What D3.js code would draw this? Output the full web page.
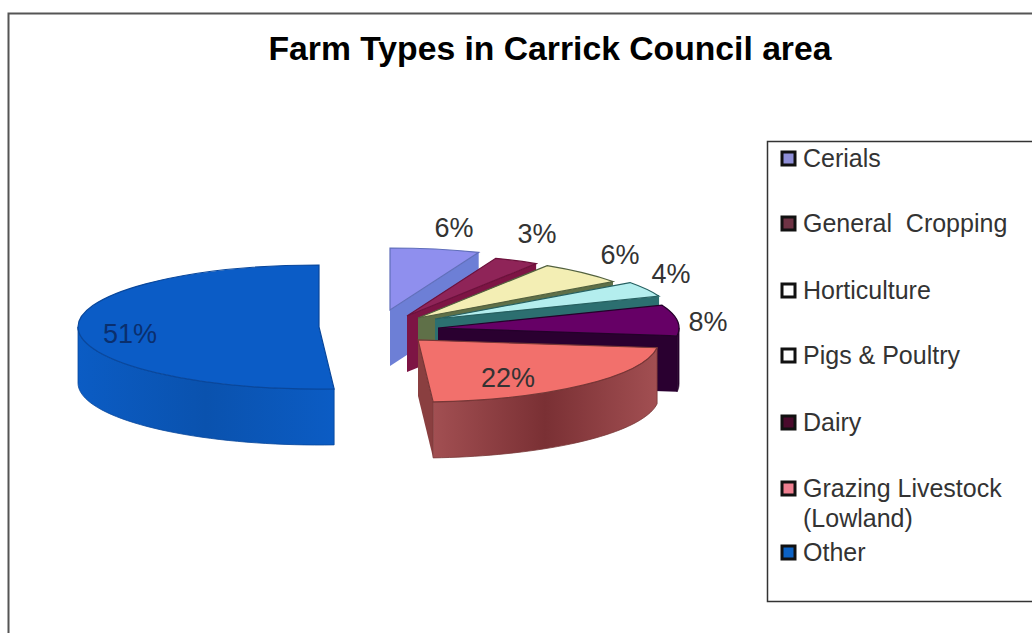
<!DOCTYPE html>
<html>
<head>
<meta charset="utf-8">
<style>
  html, body { margin: 0; padding: 0; background: #fff; }
  svg { display: block; }
  text { font-family: "Liberation Sans", Arial, sans-serif; fill: #222; }
</style>
<script src="https://cdn.jsdelivr.net/npm/d3@7/dist/d3.min.js"></script>
</head>
<body>
<svg id="chart" width="1032" height="633"></svg>
<script>
// Chart content
const chartTitle = "Farm Types in Carrick Council area";
const categories = ["Cerials", "General  Cropping", "Horticulture", "Pigs & Poultry", "Dairy", "Grazing Livestock|(Lowland)", "Other"];
const shares = [6, 3, 6, 4, 8, 22, 51];

// Slice appearance, in the same order as the categories
const topColours = ["#8f8fee", "#8f2458", "#f3eeb4", "#b4eeee", "#660066", "#f2706c", "#0b5cc6"];
const wallColours = ["#6d7fd6", "#7d1444", "#5f7048", "#2c6f70", "#2a0030", "#8a3f40", "#0a52b4"];
const legendFills = ["#8f8fd8", "#6e3344", "#ffffff", "#ffffff", "#4a0a2c", "#ee7f90", "#0c62c4"];

// Where each pulled-out slice has its apex
const apexX = [390, 407, 418, 435, 438, 418, 319];
const apexY = [310, 316, 318, 319, 328, 340, 327];
const legendBaselines = [167, 232, 299, 364, 431, 497, 561];
const labelX = [454, 537, 620, 671, 708, 508, 130];
const labelY = [237, 243, 264, 283, 331, 387, 343];

const radiusX = 241, radiusY = 62, depth = 56;

const svg = d3.select("#chart");
const defs = svg.append("defs");

// Chart frame: open on the right, running off the bottom of the page
svg.append("path").attr("d", "M8.5,633V13.5H1032").attr("fill", "none").attr("stroke", "#555").attr("stroke-width", 2);

svg.append("text").attr("x", 550).attr("y", 60).attr("text-anchor", "middle")
  .attr("font-size", 33.7).attr("font-weight", "bold").style("fill", "#000")
  .text(chartTitle);

const slices = d3.pie().sort(null).startAngle(0).endAngle(2 * Math.PI)(shares);
const arc = d3.arc().innerRadius(0).outerRadius(radiusX);
const rim = (a, i, drop = 0) => [apexX[i] + radiusX * Math.sin(a), apexY[i] - radiusY * Math.cos(a) + drop];
const line = d3.line().curve(d3.curveLinear);

// Rounded walls are darker toward the middle, as under a soft light
function wallGradient(id, edge, mid) {
  const g = defs.append("linearGradient").attr("id", id);
  g.append("stop").attr("offset", "0%").attr("stop-color", edge);
  g.append("stop").attr("offset", "50%").attr("stop-color", mid);
  g.append("stop").attr("offset", "100%").attr("stop-color", edge);
}
wallGradient("wall-5", "#a24f52", "#7a3034");
wallGradient("wall-6", "#0b5cc4", "#0a52ae");

// The big slice sits behind, then the others stack from the back to the front
const drawOrder = [6, 0, 1, 2, 3, 4, 5];
drawOrder.forEach(i => {
  const s = slices[i];
  const g = svg.append("g");
  const edge = d3.color(wallColours[i]).darker(0.4);

  // Flat wall along the closing edge, when it turns toward the viewer
  if (i < 6) {
    const p = rim(s.endAngle, i);
    g.append("path")
      .attr("d", line([[apexX[i], apexY[i]], p, [p[0], p[1] + depth], [apexX[i], apexY[i] + depth]]) + "Z")
      .attr("fill", wallColours[i]);
  }

  // Curved outer wall across the front half of the rim
  const a0 = Math.max(s.startAngle, Math.PI / 2);
  const a1 = Math.min(s.endAngle, 3 * Math.PI / 2);
  if (a1 > a0) {
    const steps = d3.range(0, 41).map(k => a0 + (a1 - a0) * k / 40);
    const pts = steps.map(a => rim(a, i)).concat(steps.slice().reverse().map(a => rim(a, i, depth)));
    g.append("path").attr("d", line(pts) + "Z")
      .attr("fill", (i === 5 || i === 6) ? `url(#wall-${i})` : wallColours[i])
      .attr("stroke", edge).attr("stroke-width", 0.8);
  }

  // Top face: a d3 arc flattened into an ellipse
  g.append("path")
    .attr("d", arc(s))
    .attr("transform", `translate(${apexX[i]},${apexY[i]}) scale(1,${radiusY / radiusX})`)
    .attr("fill", topColours[i])
    .attr("stroke", edge).attr("stroke-width", 1.2)
    .attr("vector-effect", "non-scaling-stroke");
});

// Percentage labels
svg.append("g").selectAll("text").data(shares).join("text")
  .attr("x", (d, i) => labelX[i]).attr("y", (d, i) => labelY[i])
  .attr("text-anchor", "middle").attr("font-size", 27)
  .style("fill", (d, i) => i === 6 ? "#0a2f6e" : "#333")
  .text(d => d + "%");

// Legend box, also open on the right
svg.append("path").attr("d", "M1032,141.5H767.5V601.5H1032").attr("fill", "#fff").attr("stroke", "#333").attr("stroke-width", 1.5);

const legend = svg.append("g").selectAll("g").data(categories).join("g");
legend.append("rect")
  .attr("x", 782).attr("y", (d, i) => legendBaselines[i] - 15)
  .attr("width", 13).attr("height", 13)
  .attr("fill", (d, i) => legendFills[i])
  .attr("stroke", "#111").attr("stroke-width", 3);
legend.each(function (d, i) {
  d.split("|").forEach((part, k) => {
    d3.select(this).append("text")
      .attr("x", 803).attr("y", legendBaselines[i] + k * 30)
      .attr("font-size", 25).attr("xml:space", "preserve").style("white-space", "pre")
      .style("fill", "#333")
      .text(part);
  });
});
</script>
</body>
</html>
